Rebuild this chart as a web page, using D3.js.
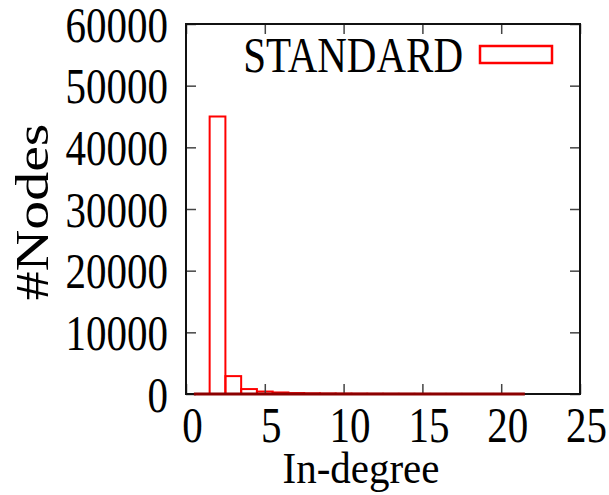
<!DOCTYPE html>
<html>
<head>
<meta charset="utf-8">
<script src="https://cdn.jsdelivr.net/npm/d3@7"></script>
<style>
  body { margin: 0; background: #fff; }
  text { font-family: "Liberation Serif", "Times New Roman", serif; fill: #000; }
</style>
</head>
<body>
<div id="chart"></div>
<script>
// In-degree histogram data
const degrees = [1, 2, 3, 4, 5, 6, 7, 8, 9, 10, 11, 12, 13, 14, 15, 16, 17, 18, 19, 20, 21];
const nodeCounts = [0, 45000, 2900, 800, 400, 250, 150, 100, 70, 50, 40, 30, 25, 20, 15, 12, 10, 8, 6, 5, 4];
const xTicks = [0, 5, 10, 15, 20, 25];
const yTicks = [0, 10000, 20000, 30000, 40000, 50000, 60000];
const seriesName = "STANDARD";

const data = degrees.map((d, i) => ({ degree: d, count: nodeCounts[i] }));

const margin = { top: 24, right: 29, bottom: 101, left: 186 };
const width = 609 - margin.left - margin.right;
const height = 495 - margin.top - margin.bottom;
const stretch = 1.23; // text looks vertically stretched in the original

const svg = d3.select("#chart")
  .append("svg")
  .attr("width", 609)
  .attr("height", 495)
  .append("g")
  .attr("transform", `translate(${margin.left},${margin.top})`);

const x = d3.scaleLinear().domain([0, 25]).range([0, width]);
const y = d3.scaleLinear().domain([0, 60000]).range([height, 0]);

// bars (boxes of width 1 centred on the degree)
svg.selectAll(".bar")
  .data(data)
  .join("rect")
  .attr("class", "bar")
  .attr("x", d => x(d.degree - 0.5))
  .attr("width", d => x(d.degree + 0.5) - x(d.degree - 0.5))
  .attr("y", d => y(d.count))
  .attr("height", d => y(0) - y(d.count))
  .attr("fill", "none")
  .attr("stroke", "#ff0000")
  .attr("stroke-width", 2);

// tick marks on all four sides, pointing inward
const tickColor = "#444";

const gx = svg.append("g")
  .attr("transform", `translate(0,${height})`)
  .call(d3.axisBottom(x).tickValues(xTicks).tickFormat(d3.format("d"))
    .tickSizeInner(-10).tickSizeOuter(0).tickPadding(0));
gx.select(".domain").remove();
gx.selectAll(".tick line").attr("stroke", tickColor).attr("stroke-width", 1.5);
gx.selectAll(".tick text")
  .attr("y", 48 / stretch)
  .attr("dy", 0)
  .attr("x", 6)
  .attr("transform", `scale(1,${stretch})`)
  .style("font-size", "41px")
  .style("font-family", "'Liberation Serif', serif")
  .attr("fill", "#000");

const gy = svg.append("g")
  .call(d3.axisLeft(y).tickValues(yTicks).tickFormat(d3.format("d"))
    .tickSizeInner(-10).tickSizeOuter(0).tickPadding(0));
gy.select(".domain").remove();
gy.selectAll(".tick line").attr("stroke", tickColor).attr("stroke-width", 1.5);
gy.selectAll(".tick text")
  .attr("x", -18)
  .attr("dy", "0.34em")
  .attr("transform", `scale(1,${stretch})`)
  .style("font-size", "41px")
  .style("font-family", "'Liberation Serif', serif")
  .attr("fill", "#000");

const gxTop = svg.append("g")
  .call(d3.axisTop(x).tickValues(xTicks).tickSizeInner(-10).tickSizeOuter(0).tickFormat(""));
gxTop.select(".domain").remove();
gxTop.selectAll(".tick line").attr("stroke", tickColor).attr("stroke-width", 1.5);

const gyRight = svg.append("g")
  .attr("transform", `translate(${width},0)`)
  .call(d3.axisRight(y).tickValues(yTicks).tickSizeInner(-10).tickSizeOuter(0).tickFormat(""));
gyRight.select(".domain").remove();
gyRight.selectAll(".tick line").attr("stroke", tickColor).attr("stroke-width", 1.5);

// frame
svg.append("rect")
  .attr("width", width)
  .attr("height", height)
  .attr("fill", "none")
  .attr("stroke", "#111")
  .attr("stroke-width", 2);

// baseline shows dark red where the bars sit on it
svg.append("line")
  .attr("x1", x(degrees[0] - 0.5))
  .attr("x2", x(degrees[degrees.length - 1] + 0.5))
  .attr("y1", y(0))
  .attr("y2", y(0))
  .attr("stroke", "#8b0000")
  .attr("stroke-width", 3);

// axis labels
svg.append("text")
  .attr("transform", `translate(${361 - margin.left},${483 - margin.top}) scale(1,1.1)`)
  .style("text-anchor", "middle")
  .style("font-size", "41px")
  .text("In-degree");

svg.append("text")
  .attr("transform", `translate(${48 - margin.left},${212 - margin.top}) scale(1,${stretch}) rotate(-90)`)
  .style("text-anchor", "middle")
  .style("font-size", "47px")
  .text("#Nodes");

// legend
svg.append("text")
  .attr("transform", `translate(${463 - margin.left},${72 - margin.top}) scale(1,1.25)`)
  .style("text-anchor", "end")
  .style("font-size", "41px")
  .text(seriesName);

svg.append("rect")
  .attr("x", 480 - margin.left)
  .attr("y", 46 - margin.top)
  .attr("width", 72)
  .attr("height", 17)
  .attr("fill", "none")
  .attr("stroke", "#ff0000")
  .attr("stroke-width", 2.5);
</script>
</body>
</html>
